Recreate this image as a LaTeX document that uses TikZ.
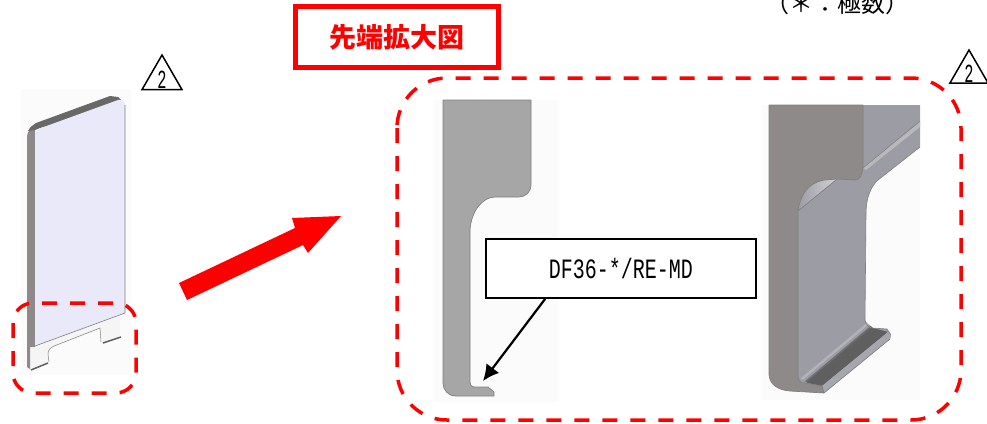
\documentclass[tikz,border=0pt]{standalone}
\usepackage{fontspec}
\usetikzlibrary{shapes.geometric, arrows.meta, calc}
\newfontfamily\cjk{Noto Sans CJK JP}
\setmonofont{Liberation Mono}
\definecolor{markred}{RGB}{255, 0, 0}
\definecolor{panelbg}{RGB}{251, 251, 251}
\definecolor{sectiongray}{RGB}{166, 166, 166}
\definecolor{edgegray}{RGB}{128, 128, 128}
\definecolor{faceblue}{RGB}{233, 233, 249}
\definecolor{sidebrown}{RGB}{142, 138, 137}
\definecolor{webgray}{RGB}{156, 156, 164}
\definecolor{lipdark}{RGB}{95, 95, 95}
\tikzset{
  zoomframe/.style={draw=markred, line width=3.5pt, dash pattern=on 15pt off 13pt},
  revmark/.style={draw=black, line width=1.5pt, regular polygon, regular polygon sides=3, inner sep=0pt, outer sep=0pt},
  panel/.style={fill=panelbg, draw=none},
  partedge/.style={draw=edgegray, line width=0.7pt, line join=round},
}
\begin{document}
\begin{tikzpicture}[x=1pt, y=-1pt]
  \useasboundingbox (0,0) rectangle (987,423);
  % panel backgrounds
  \fill[panel] (21,89) rectangle (131,375);
  \fill[panel] (434,100) rectangle (558,402);
  \fill[panel] (762,105) rectangle (920,400);
  % whole part, left
  \fill[white!92!edgegray] (30,345) -- (120,312) -- (120,337) -- (102,343) -- (100,329) -- (54,347)
    .. controls (50,348) and (48,351) .. (48,355) -- (49,363) -- (30,370) -- cycle;
  \draw[edgegray, line width=0.5pt] (49,362) -- (48,354) .. controls (48,350) and (50,348) .. (54,346) -- (100,328) -- (101,342);
  \draw[lipdark, line width=1.5pt] (31,370) -- (48,363);
  \draw[lipdark, line width=1.5pt] (103,343) -- (121,337);
  \fill[sidebrown] (27,137) .. controls (27,132) and (30,128) .. (35,127) -- (35,347) -- (30,347) -- (30,369) -- (27,367) -- cycle;
  \fill[lipdark!80!sidebrown] (28,131) .. controls (30,127) and (33,125) .. (36,123) -- (110,96) -- (118,97) -- (124,103) -- (40,128) -- (35,130) -- cycle;
  \fill[faceblue] (35,136) .. controls (35,132) and (37,129) .. (41,128) -- (118,100)
    .. controls (122,99) and (125,101) .. (125,105) -- (125,313) -- (35,346) -- cycle;
  \draw[edgegray, line width=0.6pt] (125,105) -- (125,313) -- (35,346);
  % tip section, middle
  \path[fill=sectiongray, partedge] (443,100) -- (531,100) -- (531,185)
    .. controls (531,192) and (526,197) .. (518,197) -- (495,197)
    .. controls (482,197) and (471,212) .. (470,230) -- (470,380)
    .. controls (470,385) and (471,387) .. (475,387) -- (488,387) -- (494,392) -- (494,396) -- (456,396)
    .. controls (448,396) and (443,390) .. (443,383) -- cycle;
  % tip view, right
  \fill[webgray] (863,105) -- (920,105) -- (920,147) -- (878,180)
    .. controls (871,186) and (866,198) .. (866,213) -- (865,320)
    .. controls (866,325) and (868,327) .. (872,328) -- (887,329) -- (891,335) -- (890,339) -- (824,393) -- (798,380) -- (798,211) -- (837,179) -- (855,175) -- cycle;
  \fill[white!28!webgray] (863,168) -- (920,122) -- (920,127) -- (866,170) -- cycle;
  \fill[left color=webgray, right color=white!55!webgray] (798,211) .. controls (800,195) and (808,183) .. (824,180) -- (837,179) -- cycle;
  \draw[edgegray, line width=0.5pt] (798,211) -- (837,179);
  \draw[edgegray, line width=0.5pt] (863,168) -- (920,121);
  % groove behind the lip
  \coordinate (groovea) at (798,377);
  \coordinate (grooveb) at (865,321);
  \coordinate (groovec) at (808,383);
  \coordinate (grooved) at (873,328);
  \foreach \s/\e/\c in {0/0.25/webgray, 0.25/0.5/white!22!webgray, 0.5/0.7/webgray, 0.7/0.85/webgray!70!black, 0.85/1.02/lipdark} {
    \fill[\c] ($(groovea)!\s!(groovec)$) -- ($(grooveb)!\s!(grooved)$) -- ($(grooveb)!\e!(grooved)$) -- ($(groovea)!\e!(groovec)$) -- cycle;
  }
  \fill[lipdark] (808,383) -- (822,386) -- (888,332) -- (873,328) -- cycle;
  \fill[white!10!webgray] (822,386) -- (824,393) -- (890,339) -- (891,335) -- (888,332) -- cycle;
  \path[fill=sidebrown, partedge] (769,105) -- (863,105) -- (863,167)
    .. controls (862,175) and (860,180) .. (855,180) -- (837,179) -- (824,180)
    .. controls (808,183) and (800,195) .. (798,211) -- (798,377)
    .. controls (799,381) and (801,383) .. (805,383) -- (822,386) -- (824,393) -- (790,391)
    .. controls (778,390) and (770,385) .. (769,375) -- cycle;
  \draw[edgegray, line width=0.6pt] (866,213) -- (865,320) .. controls (866,325) and (868,327) .. (872,328) -- (887,329) -- (891,335);
  \draw[edgegray, line width=0.6pt] (920,147) -- (878,180) .. controls (871,186) and (866,198) .. (866,213);
  \draw[edgegray, line width=0.6pt] (824,393) -- (890,339);
  % zoom frames and arrow
  \draw[zoomframe, rounded corners=20pt] (13,303) rectangle (136,393);
  \draw[zoomframe, rounded corners=50pt] (397,78) rectangle (961,420);
  \fill[markred] (179,283) -- (295,228) -- (292,218) -- (341,216) -- (308,253) -- (303,245) -- (187,300) -- cycle;
  % title box
  \node[draw=markred, line width=5pt, minimum width=203pt, minimum height=61pt, inner sep=0pt, text=markred, font=\cjk\fontsize{27}{27}\selectfont\bfseries] (title) at (397,37) {先端拡大図};
  % part label
  \node[draw=black, fill=white, line width=1.5pt, minimum width=270pt, minimum height=59pt, inner sep=0pt] (partlabel) at (621,268.5) {\fontsize{20}{20}\selectfont\ttfamily\scalebox{1}[1.4]{DF36-*/RE-MD}};
  \coordinate (tiptarget) at (483,381);
  \draw[-{Latex[length=16pt,width=16pt]}, line width=2.2pt] (partlabel.south west) ++(60,0) coordinate (labelfoot) -- (tiptarget);
  % revision marks
  \node[revmark, minimum size=46pt] (revleft) at (162,78) {\raisebox{-10pt}[0pt][0pt]{\fontsize{18}{18}\selectfont\ttfamily\scalebox{0.85}[1.45]{2}}};
  \node[revmark, minimum size=44pt] (revright) at (969,72) {\raisebox{-10pt}[0pt][0pt]{\fontsize{18}{18}\selectfont\ttfamily\scalebox{0.85}[1.45]{2}}};
  % note, cut by the top edge
  \node[inner sep=0pt, font=\cjk\fontsize{24}{24}\selectfont] (polenote) at (837,3) {（＊：極数）};
\end{tikzpicture}
\end{document}
